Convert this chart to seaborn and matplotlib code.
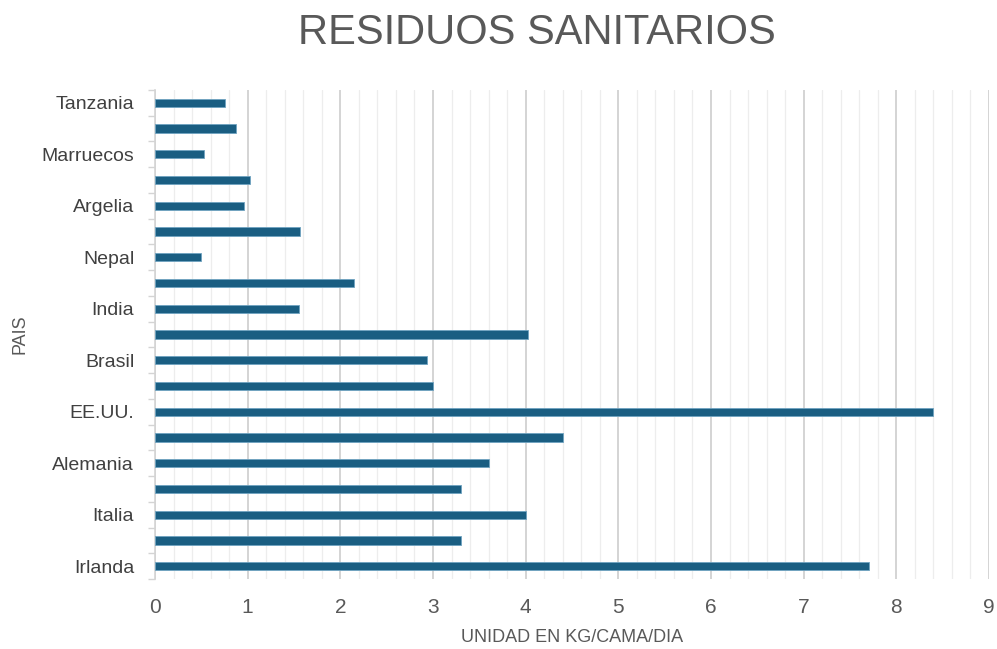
import matplotlib
matplotlib.use("Agg")
import matplotlib.pyplot as plt
import seaborn as sns
import pandas as pd
import numpy as np
from matplotlib.ticker import MultipleLocator, FixedLocator

# Data (top to bottom as displayed)
paises = ["Tanzania", "Egipto", "Marruecos", "Irán", "Argelia", "Bangladesh",
          "Nepal", "Pakistán", "India", "Japón", "Brasil", "Canadá",
          "EE.UU.", "Francia", "Alemania", "España", "Italia", "Reino Unido",
          "Irlanda"]
valores = [0.75, 0.87, 0.53, 1.03, 0.96, 1.57, 0.50, 2.15, 1.55, 4.03,
           2.94, 3.00, 8.40, 4.40, 3.60, 3.30, 4.00, 3.30, 7.70]
etiquetas_visibles = ["Tanzania", "Marruecos", "Argelia", "Nepal", "India",
                      "Brasil", "EE.UU.", "Alemania", "Italia", "Irlanda"]
x_ticks = [0, 1, 2, 3, 4, 5, 6, 7, 8, 9]

df = pd.DataFrame({"PAIS": paises, "VALOR": valores})

sns.set_theme(style="white")
plt.rcParams["font.family"] = ["Liberation Sans", "DejaVu Sans"]

fig = plt.figure(figsize=(9.97, 6.49), dpi=100)
ax = fig.add_axes([155/997, 1 - 579/649, (989-155)/997, (579-90)/649])

sns.barplot(data=df, x="VALOR", y="PAIS", order=paises, orient="h",
            color="#1a5e82", width=0.32, edgecolor="#6fa3c0", linewidth=0.6,
            saturation=1, ax=ax, zorder=3)

ax.set_xlim(0, 9)
ax.set_ylim(len(paises) - 0.5, -0.5)

ax.xaxis.set_major_locator(FixedLocator(x_ticks))
ax.xaxis.set_minor_locator(MultipleLocator(0.2))
ax.grid(which="major", axis="x", color="#d4d4d4", linewidth=1.4, zorder=0)
ax.grid(which="minor", axis="x", color="#ededed", linewidth=0.9, zorder=0)
ax.grid(which="major", axis="y", visible=False)
ax.set_axisbelow(True)

ax.set_yticks(range(len(paises)))
ax.set_yticklabels([p if p in etiquetas_visibles else "" for p in paises])
ax.yaxis.set_minor_locator(FixedLocator(np.arange(-0.5, len(paises), 1.0)))
ax.tick_params(axis="y", which="major", length=0, pad=15, labelsize=14, labelcolor="#404040")
ax.tick_params(axis="y", which="minor", length=5, width=1, color="#d4d4d4", left=True)
ax.tick_params(axis="x", which="both", length=0, pad=14, labelsize=15, labelcolor="#595959")
ax.set_xticklabels([str(t) for t in x_ticks])

for s in ["top", "right", "bottom"]:
    ax.spines[s].set_visible(False)
ax.spines["left"].set_color("#d4d4d4")
ax.spines["left"].set_linewidth(1.2)

ax.set_xlabel("UNIDAD EN KG/CAMA/DIA", fontsize=13, color="#595959")
ax.set_ylabel("PAIS", fontsize=13, color="#595959")
ax.xaxis.set_label_coords(0.5, (579 - 638) / 489, transform=ax.transAxes)
ax.xaxis.label.set_va("center")
ax.yaxis.set_label_coords((20 - 155) / 834, 0.5, transform=ax.transAxes)
ax.yaxis.label.set_va("center")

fig.text(537/997, 1 - 33/649, "RESIDUOS SANITARIOS", ha="center", va="center",
         fontsize=30, color="#595959")

fig.savefig("out.png", dpi=100)
